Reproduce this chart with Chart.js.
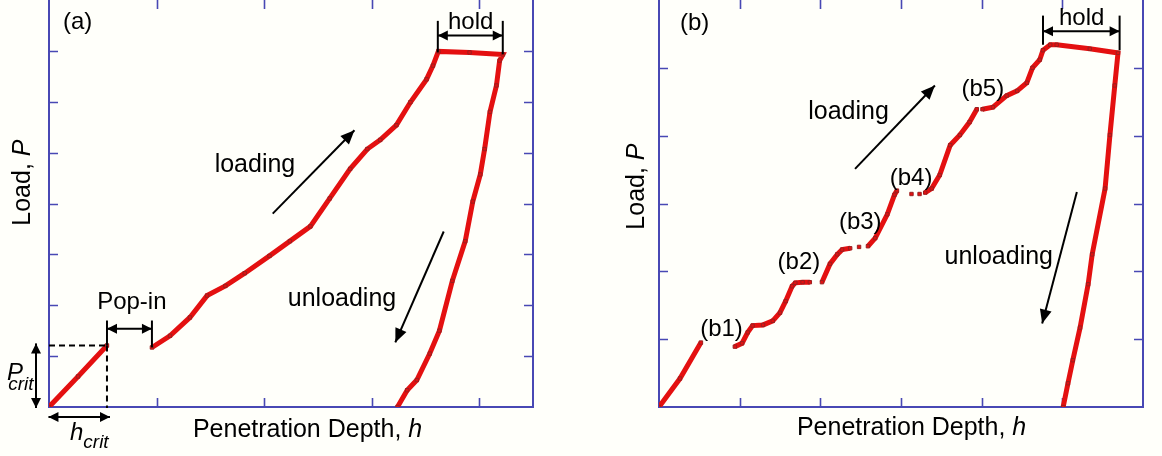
<!DOCTYPE html>
<html><head><meta charset="utf-8">
<script src="https://cdn.jsdelivr.net/npm/chart.js@4.4.1/dist/chart.umd.min.js"></script>
<style>
html,body{margin:0;padding:0;background:#fffffa;}
#wrap{position:relative;width:1162px;height:456px;overflow:hidden;background:#fffffa;}
canvas{position:absolute;left:0;top:-5px;}
</style></head><body>
<div id="wrap"><canvas id="ca" width="1162" height="461"></canvas><canvas id="cb" width="1162" height="461"></canvas></div>
<script>
// ---------- Panel (a) data: penetration depth h and load P ----------
const depthA = [0, 0.27, 0.539, null, 0.957, 1.125, 1.31, 1.47, 1.64, 1.82, 2.05, 2.24, 2.43, 2.61, 2.80, 2.96, 3.08, 3.23, 3.36, 3.51, 3.57, 3.62, 3.91, 4.22, 4.19, 4.16, 4.10, 4.05, 4.01, 3.94, 3.87, 3.75, 3.63, 3.54, 3.42, 3.33, 3.24];
const loadA  = [0, 0.60, 1.21, null, 1.17, 1.40, 1.76, 2.19, 2.38, 2.63, 2.97, 3.26, 3.55, 4.10, 4.68, 5.07, 5.25, 5.54, 5.99, 6.44, 6.71, 6.99, 6.97, 6.93, 6.81, 6.32, 5.80, 5.07, 4.57, 4.04, 3.26, 2.48, 1.50, 1.05, 0.53, 0.33, 0];
// ---------- Panel (b) data ----------
const depthB = [0, 0.26, 0.52, null, 0.94, 1.03, 1.10, 1.16, 1.29, 1.41, 1.50, 1.57, 1.65, 1.69, 1.78, 1.87, null, 2.02, 2.12, 2.21, 2.27, 2.37, null, 2.48, null, 2.59, 2.68, 2.83, 2.92, 2.95, null, 3.13, null, 3.23, null, 3.30, 3.38, 3.48, 3.61, 3.73, 3.85, 3.94, null, 4.01, 4.14, 4.31, 4.44, 4.56, 4.63, 4.72, 4.76, 4.85, 4.93, 5.34, 5.69, 5.65, 5.59, 5.53, 5.37, 5.32, 5.22, 5.13, 5.07, 5.01];
const loadB  = [0, 0.42, 0.95, null, 0.89, 0.94, 1.10, 1.20, 1.21, 1.27, 1.39, 1.56, 1.78, 1.83, 1.84, 1.84, null, 1.84, 2.11, 2.25, 2.32, 2.34, null, 2.36, null, 2.37, 2.49, 2.84, 3.13, 3.19, null, 3.14, null, 3.14, null, 3.16, 3.22, 3.42, 3.86, 4.01, 4.20, 4.39, null, 4.39, 4.42, 4.59, 4.66, 4.78, 5.00, 5.12, 5.26, 5.34, 5.34, 5.28, 5.22, 4.74, 4.01, 3.22, 2.25, 1.81, 1.17, 0.69, 0.35, 0];
// ---------- tick values ----------
const xTicksA = [1, 2, 3, 4];
const yTicksA = [1, 2, 3, 4, 5, 6, 7];
const xTicksB = [1, 2, 3, 4, 5];
const yTicksB = [1, 2, 3, 4, 5];
const xTitle = ['Penetration Depth, ', 'h'];
const yTitle = ['Load, ', 'P'];

const FONT = '"Liberation Sans", Arial, Helvetica, sans-serif';
const AXIS = '#4848b4';

function pts(H, P) {
  return H.map((h, i) => ({ x: h === null ? H[i - 1] : h, y: P[i] }));
}

function font(sz, it) { return (it ? 'italic ' : '') + sz + 'px ' + FONT; }

function drawSegs(ctx, segs, x, y, align) {
  let w = 0;
  segs.forEach(s => { ctx.font = font(s.size, s.italic); w += ctx.measureText(s.s).width; });
  let cx = align === 'center' ? x - w / 2 : x;
  ctx.textAlign = 'left';
  ctx.textBaseline = 'alphabetic';
  segs.forEach(s => {
    ctx.font = font(s.size, s.italic);
    ctx.fillText(s.s, cx, y + (s.dy || 0));
    cx += ctx.measureText(s.s).width;
  });
}

function head(ctx, x1, y1, x2, y2, L, W) {
  const a = Math.atan2(y2 - y1, x2 - x1);
  ctx.beginPath();
  ctx.moveTo(x2, y2);
  ctx.lineTo(x2 - L * Math.cos(a) + W * Math.sin(a), y2 - L * Math.sin(a) - W * Math.cos(a));
  ctx.lineTo(x2 - L * Math.cos(a) - W * Math.sin(a), y2 - L * Math.sin(a) + W * Math.cos(a));
  ctx.closePath();
  ctx.fill();
}

const annot = {
  id: 'annot',
  beforeDatasetsDraw(chart, args, o) {
    const { ctx, chartArea: a, scales } = chart;
    ctx.save();
    ctx.strokeStyle = AXIS;
    ctx.lineWidth = 2;
    ctx.beginPath();
    ctx.moveTo(a.left, a.top - 4); ctx.lineTo(a.left, a.bottom); ctx.lineTo(a.right, a.bottom); ctx.lineTo(a.right, a.top - 4);
    ctx.stroke();
    ctx.lineWidth = 1.6;
    ctx.beginPath();
    o.xTicks.forEach(v => {
      const px = Math.round(scales.x.getPixelForValue(v)) + 0.5;
      ctx.moveTo(px, a.bottom); ctx.lineTo(px, a.bottom - 9);
      ctx.moveTo(px, a.top); ctx.lineTo(px, a.top + 9);
    });
    o.yTicks.forEach(v => {
      const py = Math.round(scales.y.getPixelForValue(v)) + 0.5;
      ctx.moveTo(a.left, py); ctx.lineTo(a.left + 9, py);
      ctx.moveTo(a.right, py); ctx.lineTo(a.right - 9, py);
    });
    ctx.stroke();
    ctx.restore();
  },
  afterDatasetsDraw(chart, args, o) {
    const { ctx, scales } = chart;
    const X = v => scales.x.getPixelForValue(v), Y = v => scales.y.getPixelForValue(v);
    ctx.save();
    ctx.fillStyle = '#000';
    ctx.strokeStyle = '#000';
    ctx.lineWidth = 2;
    (o.lines || []).forEach(l => {
      ctx.setLineDash(l.dash || []);
      ctx.beginPath();
      ctx.moveTo(X(l.x1), Y(l.y1)); ctx.lineTo(X(l.x2), Y(l.y2));
      ctx.stroke();
    });
    ctx.setLineDash([]);
    (o.arrows || []).forEach(l => {
      const x1 = X(l.x1), y1 = Y(l.y1), x2 = X(l.x2), y2 = Y(l.y2);
      ctx.beginPath(); ctx.moveTo(x1, y1); ctx.lineTo(x2, y2); ctx.stroke();
      if (l.both) { head(ctx, x1, y1, x2, y2, 10, 5); head(ctx, x2, y2, x1, y1, 10, 5); }
      else head(ctx, x1, y1, x2, y2, 14, 6);
    });
    (o.texts || []).forEach(t => {
      drawSegs(ctx, t.segs, X(t.x), Y(t.y), t.align);
    });
    // axis titles
    drawSegs(ctx, [{ s: xTitle[0], size: 25 }, { s: xTitle[1], size: 25, italic: true }], X(o.xt[0]), Y(o.xt[1]), 'left');
    ctx.save();
    ctx.translate(X(o.yt[0]), Y(o.yt[1]));
    ctx.rotate(-Math.PI / 2);
    drawSegs(ctx, [{ s: yTitle[0], size: 25 }, { s: yTitle[1], size: 25, italic: true }], 0, 0, 'center');
    ctx.restore();
    ctx.restore();
  }
};

function T(s, x, y, size, align) { return { segs: [{ s, size: size || 24 }], x, y, align }; }

function makeChart(id, H, P, xmax, ymax, pad, ann) {
  return new Chart(document.getElementById(id), {
    type: 'scatter',
    data: {
      datasets: [{
        data: pts(H, P),
        showLine: true,
        spanGaps: false,
        borderColor: '#e41010',
        borderWidth: 5,
        pointStyle: 'rect',
        pointRadius: 2.4,
        pointBackgroundColor: '#e41010',
        pointBorderColor: '#9a2020',
        pointBorderWidth: 1,
        tension: 0
      }]
    },
    options: {
      responsive: false,
      animation: false,
      devicePixelRatio: 1,
      layout: { padding: pad },
      events: [],
      scales: {
        x: { type: 'linear', min: 0, max: xmax, display: false },
        y: { type: 'linear', min: 0, max: ymax, display: false }
      },
      plugins: { legend: { display: false }, tooltip: { enabled: false }, annot: ann }
    },
    plugins: [annot]
  });
}

makeChart('ca', depthA, loadA, 4.5, 8, { left: 49, right: 629, top: 2, bottom: 49 }, {
  xTicks: xTicksA, yTicks: yTicksA,
  xt: [1.338, -0.585], yt: [-0.177, 4.41],
  texts: [
    T('(a)', 0.13, 7.43), T('hold', 3.92, 7.43, 24, 'center'),
    T('loading', 1.54, 4.62, 25), T('unloading', 2.22, 1.99, 25),
    T('Pop-in', 0.77, 1.93, 24, 'center'),
    { segs: [{ s: 'P', size: 24, italic: true }], x: -0.39, y: 0.53 },
    { segs: [{ s: 'crit', size: 19, italic: true }], x: -0.38, y: 0.33 },
    { segs: [{ s: 'h', size: 24, italic: true }, { s: 'crit', size: 19, italic: true, dy: 8 }], x: 0.195, y: -0.644 }
  ],
  lines: [
    { x1: 3.615, y1: 7.59, x2: 3.615, y2: 6.97 }, { x1: 4.219, y1: 7.59, x2: 4.219, y2: 6.93 },
    { x1: 0.539, y1: 1.70, x2: 0.539, y2: 1.21 }, { x1: 0.957, y1: 1.70, x2: 0.957, y2: 1.17 },
    { x1: 0, y1: 1.21, x2: 0.539, y2: 1.21, dash: [6, 4] }, { x1: 0.539, y1: 1.21, x2: 0.539, y2: -0.02, dash: [6, 4] }
  ],
  arrows: [
    { x1: 3.615, y1: 7.30, x2: 4.219, y2: 7.30, both: true },
    { x1: 0.539, y1: 1.54, x2: 0.957, y2: 1.54, both: true },
    { x1: -0.121, y1: 1.25, x2: -0.121, y2: -0.02, both: true },
    { x1: -0.005, y1: -0.195, x2: 0.567, y2: -0.195, both: true },
    { x1: 2.08, y1: 3.80, x2: 2.84, y2: 5.44 },
    { x1: 3.67, y1: 3.45, x2: 3.22, y2: 1.27 }
  ]
});

makeChart('cb', depthB, loadB, 6, 6, { left: 659, right: 19, top: 2, bottom: 49 }, {
  xTicks: xTicksB, yTicks: yTicksB,
  xt: [1.71, -0.41], yt: [-0.186, 3.25],
  texts: [
    T('(b)', 0.26, 5.56), T('hold', 5.24, 5.63, 24, 'center'),
    T('loading', 1.85, 4.24, 25), T('unloading', 3.54, 2.11, 25),
    T('(b1)', 0.51, 1.05), T('(b2)', 1.47, 2.03), T('(b3)', 2.23, 2.62),
    T('(b4)', 2.86, 3.27), T('(b5)', 3.75, 4.59)
  ],
  lines: [
    { x1: 4.76, y1: 5.77, x2: 4.76, y2: 5.34 }, { x1: 5.71, y1: 5.77, x2: 5.71, y2: 5.26 }
  ],
  arrows: [
    { x1: 4.76, y1: 5.54, x2: 5.71, y2: 5.54, both: true },
    { x1: 2.43, y1: 3.51, x2: 3.42, y2: 4.74 },
    { x1: 5.18, y1: 3.17, x2: 4.75, y2: 1.23 }
  ]
});
</script>
</body></html>
